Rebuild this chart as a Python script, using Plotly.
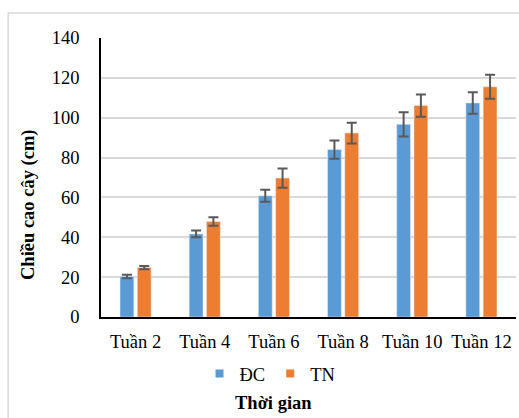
import plotly.graph_objects as go

categories = ["Tuần 2", "Tuần 4", "Tuần 6", "Tuần 8", "Tuần 10", "Tuần 12"]
dc_values = [20.3, 41.7, 60.8, 84.0, 96.7, 107.4]
dc_errors = [0.9, 1.7, 3.0, 4.6, 6.1, 5.4]
tn_values = [24.8, 47.9, 69.7, 92.3, 106.1, 115.5]
tn_errors = [0.8, 2.1, 4.8, 5.2, 5.6, 6.0]
y_ticks = [0, 20, 40, 60, 80, 100, 120, 140]
series_names = ["ĐC", "TN"]
series_colors = ["#5B9BD5", "#ED7D31"]

FONT = "Liberation Serif, Times New Roman, serif"
FS = 18.5
err_style = dict(type="data", visible=True, color="#595959", thickness=2, width=5)

fig = go.Figure()
for name, color, vals, errs in zip(series_names, series_colors,
                                   [dc_values, tn_values], [dc_errors, tn_errors]):
    fig.add_trace(go.Bar(name=name, x=categories, y=vals, marker_color=color,
                         error_y=dict(array=errs, **err_style), showlegend=False,
                         legendgroup=name))
# legend entries with small square swatches
for name, color in zip(series_names, series_colors):
    fig.add_trace(go.Scatter(name=name, x=[None], y=[None], mode="markers",
                             marker=dict(symbol="square", size=8, color=color),
                             legendgroup=name, showlegend=True))

fig.update_layout(
    width=519, height=418,
    margin=dict(l=101, r=3, t=38, b=101),
    paper_bgcolor="white", plot_bgcolor="white",
    barmode="group", bargap=0.5, bargroupgap=0.2,
    font=dict(family=FONT, size=FS, color="black"),
    showlegend=True,
    legend=dict(orientation="h", x=(270 - 101) / 415, xanchor="center", y=(317 - 374) / 279,
                yanchor="middle",
                font=dict(family=FONT, size=FS, color="black"),
                itemwidth=30, tracegroupgap=0),
    xaxis=dict(showline=True, linecolor="black", linewidth=2, ticks="",
               tickfont=dict(family=FONT, size=FS), ticklabelstandoff=7, showgrid=False),
    yaxis=dict(range=[0, 140], tickvals=y_ticks, showline=True, linecolor="black", linewidth=1.5,
               showgrid=True, gridcolor="#D9D9D9", gridwidth=2, zeroline=False,
               ticks="", ticklabelstandoff=16, tickfont=dict(family=FONT, size=FS)),
    shapes=[dict(type="rect", xref="paper", yref="paper", x0=-0.2236, x1=1.2,
                 y0=-0.6, y1=1.0896, line=dict(color="#D9D9D9", width=1.5), layer="below")],
    annotations=[
        dict(text="<b>Thời gian</b>", xref="paper", yref="paper", x=(273 - 101) / 415,
             y=(317 - 403) / 279, xanchor="center", yanchor="middle", showarrow=False,
             font=dict(family=FONT, size=FS, color="black")),
        dict(text="<b>Chiều cao cây (cm)</b>", xref="paper", yref="paper", x=(28 - 101) / 415,
             y=(317 - 205) / 279, xanchor="center", yanchor="middle", showarrow=False,
             textangle=-90, font=dict(family=FONT, size=FS, color="black")),
    ],
)

fig.write_html("out.html", config={"displayModeBar": False},
               post_script="document.body.style.margin='0';document.body.style.overflow='hidden';")
